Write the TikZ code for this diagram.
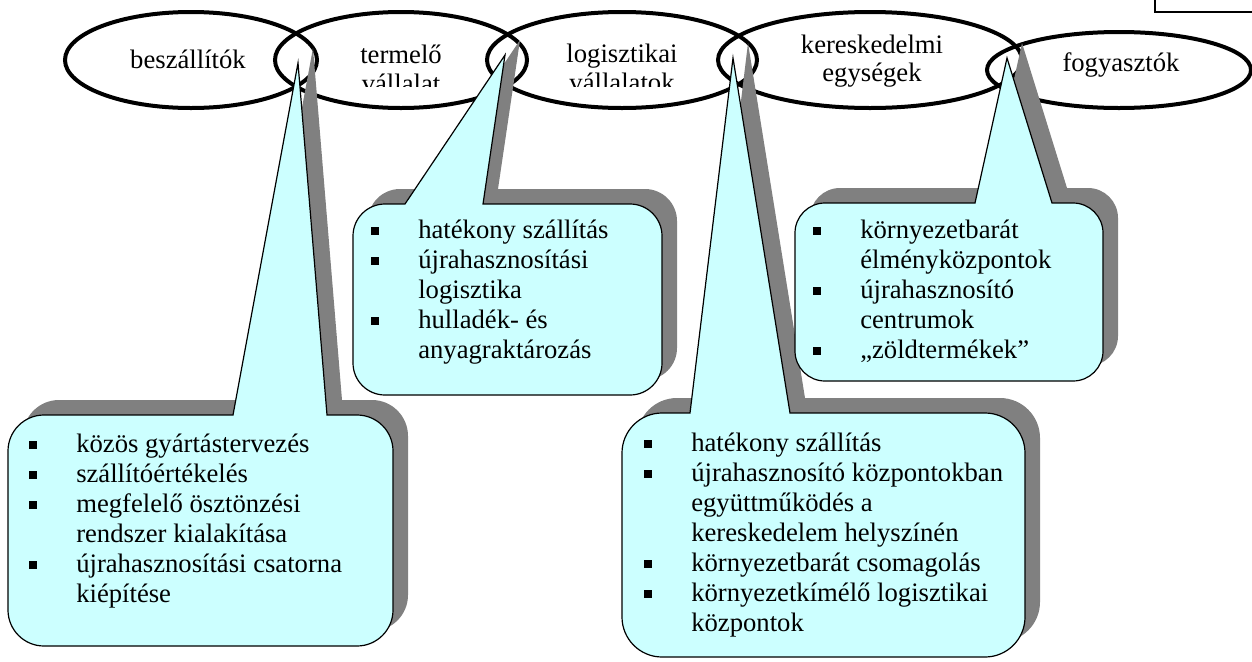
\documentclass[tikz,border=0pt]{standalone}
\usepackage{fontspec}
\setmainfont{Liberation Serif}
\usepackage{array}
\usetikzlibrary{shapes.geometric}

\definecolor{callfill}{HTML}{CCFFFF}
\definecolor{callshadow}{HTML}{808080}

% speech-bubble outline: left, top, right, bottom, pointer base x1, x2, tip x, tip y, corner radius
\newcommand\calloutpath[9]{%
  (#5,#2) -- (#7,#8) -- (#6,#2) -- ({#3-#9},#2)
  .. controls ({#3-0.448*#9},#2) and (#3,{#2+0.448*#9}) .. (#3,{#2+#9})
  -- (#3,{#4-#9})
  .. controls (#3,{#4-0.448*#9}) and ({#3-0.448*#9},#4) .. ({#3-#9},#4)
  -- ({#1+#9},#4)
  .. controls ({#1+0.448*#9},#4) and (#1,{#4-0.448*#9}) .. (#1,{#4-#9})
  -- (#1,{#2+#9})
  .. controls (#1,{#2+0.448*#9}) and ({#1+0.448*#9},#2) .. ({#1+#9},#2)
  -- cycle}

\newcommand\callfont{\fontsize{20}{22.5}\selectfont}
\newcommand\bul{\rule[2pt]{6pt}{6pt}}
\newenvironment{bullets}{\callfont\begin{tabular}[t]{@{}p{35.25pt}@{}l@{}}}{\end{tabular}}

\begin{document}
\begin{tikzpicture}[x=0.75pt, y=-0.75pt,
  stage/.style={draw, ellipse, line width=3pt, inner sep=0pt},
  stagetext/.style={font=\callfont, anchor=base},
  bubble/.style={fill=callfill, draw=black, line width=0.9pt, line join=miter},
  bubbleshadow/.style={fill=callshadow, shift={(15,-15)}},
  bubbletext/.style={anchor=base west, inner sep=0pt}]

\useasboundingbox (0,0) rectangle (1252,661);

% frame corner at the top right
\draw[line width=0.8pt] (1155,-10) rectangle (1262,12);

% supply chain stages
\node[stage, minimum width=189pt, minimum height=72pt] (e1) at (191,60) {};
\node[stage, minimum width=189pt, minimum height=72pt] (e2) at (401,60) {};
\node[stage, minimum width=202.5pt, minimum height=72pt] (e3) at (622,60) {};
\node[stage, minimum width=228pt, minimum height=72pt] (e4) at (870,60) {};
\node[stage, minimum width=198pt, minimum height=57pt] (e5) at (1119,70) {};

% stage names; the second lines run past the text area and are cut off
\begin{scope}
  \clip (0,0) rectangle (1252,86);
  \node[stagetext] (t1) at (188,68) {beszállítók};
  \node[stagetext] (t2a) at (401,63) {termelő};
  \node[stagetext] (t2b) at (401,92) {vállalat};
  \node[stagetext] (t3a) at (622,62) {logisztikai};
  \node[stagetext] (t3b) at (622,91) {vállalatok};
  \node[stagetext] (t4a) at (872,53) {kereskedelmi};
  \node[stagetext] (t4b) at (872,81) {egységek};
  \node[stagetext] (t5) at (1121,71) {fogyasztók};
\end{scope}

% shadows of the bubbles
\fill[bubbleshadow] \calloutpath{8}{415}{393}{646}{233}{327}{298}{63}{36};
\fill[bubbleshadow] \calloutpath{353}{204}{662}{395}{405}{483}{505}{55}{32};
\fill[bubbleshadow] \calloutpath{622}{413}{1025}{657}{690}{790}{733}{58}{40};
\fill[bubbleshadow] \calloutpath{795}{203}{1103}{381}{975}{1052}{1007}{58}{30};

% bubbles
\path[bubble] \calloutpath{8}{415}{393}{646}{233}{327}{298}{63}{36};
\path[bubble] \calloutpath{353}{204}{662}{395}{405}{483}{505}{55}{32};
\path[bubble] \calloutpath{622}{413}{1025}{657}{690}{790}{733}{58}{40};
\path[bubble] \calloutpath{795}{203}{1103}{381}{975}{1052}{1007}{58}{30};

% bubble contents
\node[bubbletext] (b1) at (29,452) {\begin{bullets}
\bul & közös gyártástervezés\\
\bul & szállítóértékelés\\
\bul & megfelelő ösztönzési\\
     & rendszer kialakítása\\
\bul & újrahasznosítási csatorna\\
     & kiépítése
\end{bullets}};

\node[bubbletext] (b2) at (371,238) {\begin{bullets}
\bul & hatékony szállítás\\
\bul & újrahasznosítási\\
     & logisztika\\
\bul & hulladék- és\\
     & anyagraktározás
\end{bullets}};

\node[bubbletext] (b3) at (644,451) {\begin{bullets}
\bul & hatékony szállítás\\
\bul & újrahasznosító központokban\\
     & együttműködés a\\
     & kereskedelem helyszínén\\
\bul & környezetbarát csomagolás\\
\bul & környezetkímélő logisztikai\\
     & központok
\end{bullets}};

\node[bubbletext] (b4) at (813,238) {\begin{bullets}
\bul & környezetbarát\\
     & élményközpontok\\
\bul & újrahasznosító\\
     & centrumok\\
\bul & „zöldtermékek”
\end{bullets}};

\end{tikzpicture}
\end{document}
